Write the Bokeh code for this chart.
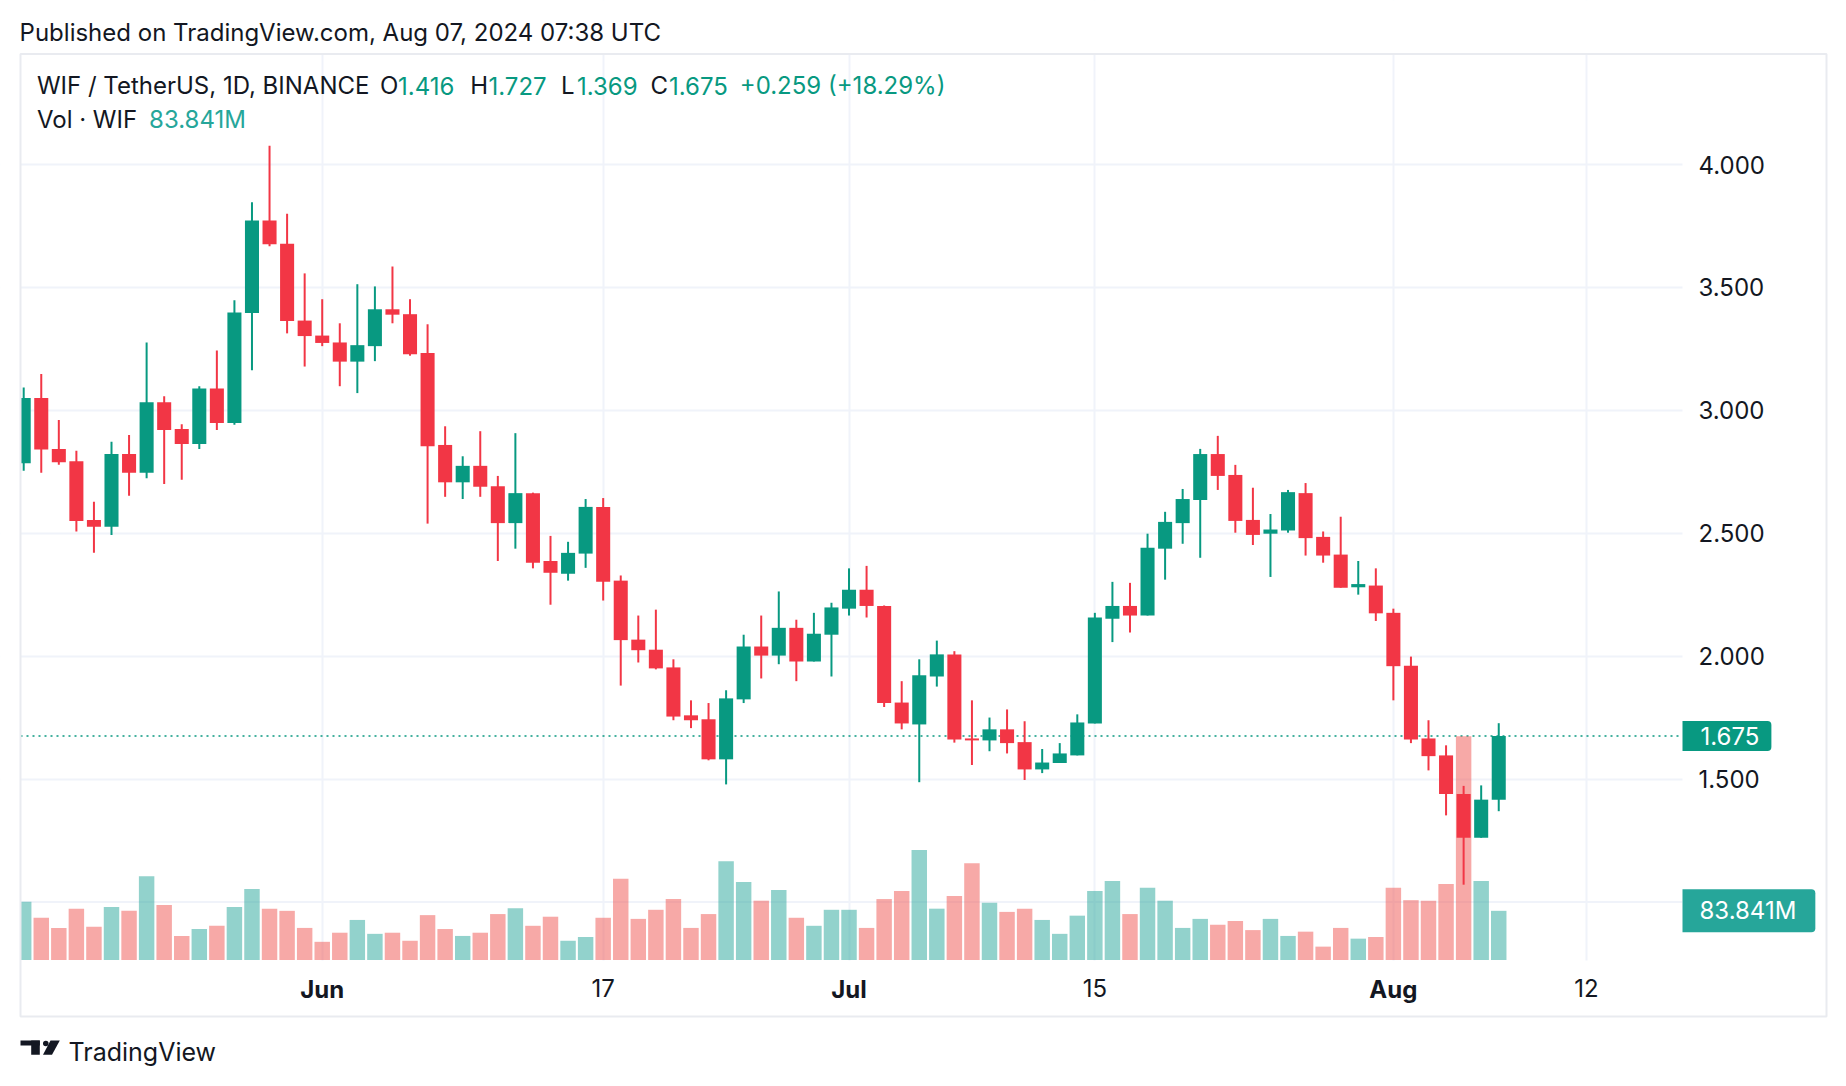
import pandas as pd
from bokeh.plotting import figure
from bokeh.models import (Range1d, FixedTicker, PrintfTickFormatter, Label,
                          ColumnDataSource)
from bokeh.embed import file_html
from bokeh.resources import INLINE

# ---------------- data ----------------
start_date = "2024-05-15"
opens = [2.785, 3.050, 2.843, 2.793, 2.554, 2.526, 2.822, 2.746, 3.033, 2.924,
         2.863, 3.089, 2.948, 3.396, 3.772, 3.678, 3.365, 3.304, 3.276, 3.198,
         3.261, 3.411, 3.391, 3.233, 2.859, 2.707, 2.774, 2.691, 2.541, 2.663,
         2.387, 2.335, 2.417, 2.607, 2.307, 2.067, 2.026, 1.954, 1.759, 1.743,
         1.580, 1.824, 2.039, 2.002, 2.115, 1.978, 2.087, 2.193, 2.270, 2.204,
         1.811, 1.722, 1.917, 2.007, 1.665, 1.657, 1.702, 1.650, 1.539, 1.565,
         1.596, 1.726, 2.152, 2.204, 2.165, 2.437, 2.541, 2.635, 2.822, 2.737,
         2.554, 2.498, 2.511, 2.663, 2.485, 2.413, 2.280, 2.287, 2.176, 1.961,
         1.665, 1.596, 1.439, 1.261, 1.416]
highs = [3.093, 3.148, 2.961, 2.835, 2.628, 2.872, 2.900, 3.276, 3.057, 2.943,
         3.098, 3.243, 3.448, 3.846, 4.076, 3.800, 3.557, 3.452, 3.354, 3.513,
         3.504, 3.585, 3.452, 3.350, 2.935, 2.813, 2.915, 2.733, 2.907, 2.665,
         2.489, 2.465, 2.639, 2.643, 2.328, 2.165, 2.189, 1.987, 1.820, 1.809,
         1.861, 2.087, 2.165, 2.263, 2.148, 2.176, 2.217, 2.357, 2.367, 2.206,
         1.898, 1.987, 2.063, 2.020, 1.820, 1.750, 1.783, 1.735, 1.622, 1.646,
         1.763, 2.176, 2.302, 2.298, 2.498, 2.587, 2.680, 2.843, 2.896, 2.778,
         2.685, 2.578, 2.676, 2.704, 2.507, 2.567, 2.387, 2.357, 2.193, 1.998,
         1.739, 1.637, 1.472, 1.474, 1.727]
lows = [2.754, 2.746, 2.778, 2.507, 2.420, 2.493, 2.652, 2.724, 2.700, 2.717,
        2.843, 2.920, 2.941, 3.163, 3.667, 3.313, 3.178, 3.261, 3.098, 3.070,
        3.200, 3.354, 3.222, 2.539, 2.648, 2.639, 2.648, 2.387, 2.437, 2.357,
        2.209, 2.307, 2.359, 2.226, 1.880, 1.974, 1.946, 1.739, 1.707, 1.576,
        1.478, 1.809, 1.909, 1.967, 1.898, 1.978, 1.917, 2.165, 2.157, 1.793,
        1.702, 1.487, 1.876, 1.648, 1.557, 1.613, 1.604, 1.496, 1.524, 1.565,
        1.596, 1.726, 2.057, 2.096, 2.165, 2.311, 2.457, 2.400, 2.676, 2.502,
        2.452, 2.322, 2.502, 2.409, 2.380, 2.278, 2.250, 2.143, 1.820, 1.646,
        1.535, 1.352, 1.070, 1.261, 1.369]
closes = [3.050, 2.841, 2.789, 2.550, 2.526, 2.822, 2.746, 3.033, 2.920, 2.863,
          3.089, 2.948, 3.398, 3.772, 3.676, 3.363, 3.302, 3.274, 3.198, 3.265,
          3.411, 3.389, 3.228, 2.854, 2.707, 2.774, 2.689, 2.541, 2.663, 2.380,
          2.339, 2.420, 2.607, 2.302, 2.065, 2.024, 1.950, 1.754, 1.739, 1.580,
          1.828, 2.039, 2.002, 2.115, 1.978, 2.091, 2.198, 2.270, 2.204, 1.809,
          1.726, 1.922, 2.007, 1.661, 1.657, 1.702, 1.646, 1.539, 1.567, 1.604,
          1.730, 2.157, 2.204, 2.165, 2.441, 2.546, 2.639, 2.822, 2.733, 2.550,
          2.493, 2.515, 2.667, 2.480, 2.409, 2.278, 2.293, 2.174, 1.959, 1.661,
          1.593, 1.439, 1.261, 1.416, 1.675]
volumes = [99.3, 72.0, 54.7, 87.5, 56.5, 90.2, 83.8, 143.0, 93.8, 41.0,
           52.8, 58.3, 90.2, 121.2, 87.5, 83.8, 54.7, 31.0, 46.5, 68.3,
           44.6, 46.5, 32.8, 76.5, 52.8, 41.0, 46.5, 78.3, 88.4, 58.3,
           73.8, 32.8, 39.2, 72.0, 138.5, 70.1, 85.6, 103.9, 54.7, 78.3,
           168.5, 133.0, 101.1, 119.3, 72.0, 58.3, 85.6, 85.6, 54.7, 103.9,
           117.5, 187.7, 87.5, 109.3, 164.9, 97.5, 82.0, 87.5, 68.3, 44.6,
           75.6, 117.5, 134.8, 78.3, 123.0, 101.1, 54.7, 70.1, 60.1, 66.5,
           51.0, 70.1, 41.0, 48.3, 22.8, 54.7, 36.4, 39.2, 123.0, 102.0,
           101.1, 129.4, 381.7, 134.8, 83.841]
tick_dates = ["2024-06-01", "2024-06-17", "2024-07-01", "2024-07-15", "2024-08-01", "2024-08-12"]
tick_labels = ["Jun", "17", "Jul", "15", "Aug", "12"]
price_ticks = [1.5, 2.0, 2.5, 3.0, 3.5, 4.0]
extra_grid_price = 1.0
symbol_text = "WIF / TetherUS, 1D, BINANCE"
volume_name = "Vol · WIF"
published_text = "Published on TradingView.com, Aug 07, 2024 07:38 UTC"
brand_text = "TradingView"

# ---------------- styling ----------------
UP = "#089981"
DOWN = "#f23645"
VOL_UP = "#26a69a"
VOL_DOWN = "#ef5350"
DARK = "#131722"
GRID = "#f0f3fa"
BORDER = "#e9ebf0"
FONT = "Inter"
FS = "24px"
DAY = 86400000
BASE_SHIFT = 9.0   # correction for label baseline placement

dates = pd.date_range(start_date, periods=len(opens), freq="D")
xs = [int(d.value // 10**6) for d in dates]
tick_ms = [int(pd.Timestamp(t).value // 10**6) for t in tick_dates]

up = [c >= o for o, c in zip(opens, closes)]
src = ColumnDataSource(dict(
    x=xs, o=opens, h=highs, l=lows, c=closes,
    top=[max(o, c) for o, c in zip(opens, closes)],
    bottom=[min(o, c) for o, c in zip(opens, closes)],
    color=[UP if u else DOWN for u in up],
    vol=volumes,
    vcolor=[VOL_UP if u else VOL_DOWN for u in up],
))

# ---------------- page layout (pixel -> data) ----------------
PAGE_W, PAGE_H = 1840, 1080
PX_PER_DAY = 17.56
X_ORIGIN = 23.2          # pixel x of the first candle
PX_PER_UNIT = 245.8      # pixels per 1.0 of price
Y_4 = 164.0              # pixel y of price 4.0
VOL_PX = 0.5865          # pixels per million of volume
VOL_BASE = 959.5         # pixel y of zero volume
PANE_L, PANE_R, PANE_T, PANE_B = 20, 1682, 54, 960
BOX_R, BOX_B = 1826, 1016


def X(px):
    return xs[0] + (px - X_ORIGIN) / PX_PER_DAY * DAY


def Y(py):
    return 4.0 - (py - Y_4) / PX_PER_UNIT


def V(py):
    return (VOL_BASE - py) / VOL_PX


p = figure(frame_width=PAGE_W, frame_height=PAGE_H,
           x_range=Range1d(X(0), X(PAGE_W)), y_range=Range1d(Y(PAGE_H), Y(0)),
           x_axis_type="datetime", y_axis_location="right",
           output_backend="svg", toolbar_location=None, title=None, min_border=0)
p.background_fill_color = "white"
p.border_fill_color = "white"
p.outline_line_color = None
p.extra_y_ranges = {"vol": Range1d(V(PAGE_H), V(0))}

p.xgrid.grid_line_color = GRID
p.xgrid.grid_line_width = 2
p.ygrid.grid_line_color = GRID
p.ygrid.grid_line_width = 2

# extra grid line at 1.0 and the last price line (pane width only)
p.segment(x0=[X(PANE_L)], y0=[extra_grid_price], x1=[X(PANE_R)], y1=[extra_grid_price],
          line_color=GRID, line_width=2)
p.segment(x0=[X(PANE_L)], y0=[closes[-1]], x1=[X(PANE_R)], y1=[closes[-1]],
          line_color=UP, line_dash="2 4", line_width=1.5)

# volume
p.vbar(x="x", width=0.88 * DAY, top="vol", bottom=0, y_range_name="vol",
       fill_color="vcolor", fill_alpha=0.5, line_color=None, source=src)
# candles
p.segment(x0="x", y0="h", x1="x", y1="l", line_color="color", line_width=2, source=src)
p.vbar(x="x", width=0.8 * DAY, top="top", bottom="bottom", fill_color="color",
       line_color=None, source=src)

# white masks outside the pane
E = 40
p.quad(left=[X(-E), X(PANE_R), X(-E), X(-E)],
       right=[X(PANE_L), X(PAGE_W + E), X(PAGE_W + E), X(PAGE_W + E)],
       top=[Y(-E), Y(-E), Y(-E), Y(PANE_B)],
       bottom=[Y(PAGE_H + E), Y(PAGE_H + E), Y(PANE_T), Y(PAGE_H + E)],
       fill_color="white", line_color=None)
# chart box border
p.quad(left=[X(PANE_L)], right=[X(BOX_R)], top=[Y(PANE_T - 0.5)], bottom=[Y(BOX_B)],
       fill_alpha=0, line_color=BORDER, line_width=2)

# axes (labels placed inside the box with negative standoffs)
yax = p.yaxis[0]
yax.ticker = FixedTicker(ticks=price_ticks)
yax.formatter = PrintfTickFormatter(format="%.3f")
yax.axis_line_color = None
yax.major_tick_line_color = None
yax.minor_tick_line_color = None
yax.major_tick_out = 0
yax.major_tick_in = 0
yax.minor_tick_out = 0
yax.major_label_standoff = 1698 - PAGE_W
yax.major_label_text_font = FONT
yax.major_label_text_font_size = FS
yax.major_label_text_color = DARK

xax = p.xaxis[0]
xax.ticker = FixedTicker(ticks=tick_ms)
xax.major_label_overrides = {t: (lab if not lab.isdigit() else "") for t, lab in zip(tick_ms, tick_labels)}
xax.axis_line_color = None
xax.major_tick_line_color = None
xax.minor_tick_line_color = None
xax.major_tick_out = 0
xax.major_tick_in = 0
xax.minor_tick_out = 0
xax.major_label_standoff = 974 - PAGE_H
xax.major_label_text_font = FONT
xax.major_label_text_font_size = FS
xax.major_label_text_font_style = "bold"
xax.major_label_text_color = DARK


def text(px, py, s, color=DARK, size=FS):
    p.add_layout(Label(x=X(px), y=Y(py - BASE_SHIFT), text=s, text_align="left",
                       text_baseline="alphabetic", text_font=FONT, text_font_size=size,
                       text_color=color))


# day labels of the time axis (normal weight)
for t, lab in zip(tick_ms, tick_labels):
    if lab.isdigit():
        p.add_layout(Label(x=t, y=Y(987.6), text=lab, text_align="center",
                           text_baseline="middle", text_font=FONT, text_font_size=FS,
                           text_color=DARK))

# price badges
p.add_layout(Label(x=X(PANE_R), y=closes[-1], text=f"{closes[-1]:.3f}", text_align="left",
                   text_baseline="middle", text_font=FONT, text_font_size=FS,
                   text_color="white", background_fill_color=UP,
                   padding=(18, 12, 6, 6), border_radius=(0, 4, 4, 0)))
vol_badge_y = VOL_BASE - volumes[-1] * VOL_PX
p.add_layout(Label(x=X(PANE_R), y=Y(vol_badge_y), text=f"{volumes[-1]:.3f}M", text_align="left",
                   text_baseline="middle", text_font=FONT, text_font_size=FS,
                   text_color="white", background_fill_color=VOL_UP,
                   padding=(17, 19, 7, 7), border_radius=(0, 4, 4, 0)))

# header
text(19.1, 40.7, published_text)

# legend
o, h, l, c, pc = opens[-1], highs[-1], lows[-1], closes[-1], closes[-2]
legend_parts = [
    (36.4, symbol_text, DARK),
    (379.5, "O", DARK), (397.5, f"{o:.3f}", UP),
    (469.7, "H", DARK), (488.0, f"{h:.3f}", UP),
    (560.4, "L", DARK), (576.5, f"{l:.3f}", UP),
    (649.9, "C", DARK), (668.5, f"{c:.3f}", UP),
    (739.3, f"{c - pc:+.3f} ({(c - pc) / pc * 100:+.2f}%)", UP),
]
for px, txt, col in legend_parts:
    text(px, 94, txt, col)
text(36.4, 128.3, volume_name)
text(148.6, 128.3, f"{volumes[-1]:.3f}M", VOL_UP)

# footer: logo + brand
p.quad(left=[X(20), X(30.7)], right=[X(39.3), X(39.3)],
       top=[Y(1040), Y(1040)], bottom=[Y(1045), Y(1054.3)],
       fill_color=DARK, line_color=None)
p.scatter(x=[X(45.3)], y=[Y(1043)], size=5.6, marker="circle", fill_color=DARK, line_color=None)
p.patch(x=[X(50), X(59.3), X(51.5), X(42.5)], y=[Y(1040), Y(1040), Y(1054.3), Y(1054.3)],
        fill_color=DARK, line_color=None)
text(68, 1060.7, brand_text, size="25px")

open("out.html", "w").write(file_html(p, INLINE))
